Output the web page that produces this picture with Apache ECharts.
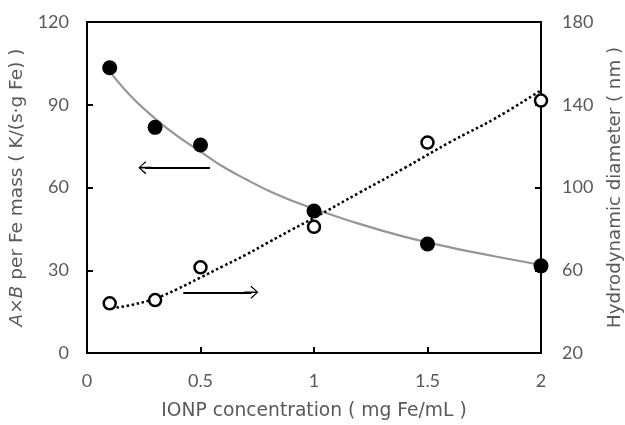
<!DOCTYPE html>
<html>
<head>
<meta charset="utf-8">
<script src="https://cdn.jsdelivr.net/npm/echarts@6/dist/echarts.min.js"></script>
<style>
html,body{margin:0;padding:0;background:#fff;}
#chart{width:625px;height:425px;}
</style>
</head>
<body>
<div id="chart"></div>
<script>
// Measured data points
var concentration = [0.1, 0.3, 0.5, 1, 1.5, 2];
var abPerFeMass = [103.4, 81.8, 75.4, 51.5, 39.5, 31.6];
var hydroDiameter = [44.0, 45.6, 61.4, 81.0, 121.7, 142.0];

// Fit curves
var fitAbX = [0.11, 0.2, 0.3, 0.4, 0.5, 0.6, 0.7, 0.8, 0.9, 1.0, 1.2, 1.4, 1.6, 1.8, 2.0];
var fitAbY = [101, 92.5, 85, 78.5, 73, 67.5, 63, 58.8, 55.3, 52.3, 46.8, 42.1, 38.3, 35, 31.9];
var fitDiaX = [0.13, 0.2, 0.3, 0.4, 0.5, 0.6, 0.7, 0.8, 0.9, 1.0, 1.2, 1.4, 1.6, 1.8, 2.0];
var fitDiaY = [42, 43.3, 46.3, 51, 56.5, 62, 67.5, 73.5, 79.5, 85.3, 97.5, 109.5, 122, 133.5, 147];

// Arrow annotations (data coordinates on left axis)
var arrowLeft = {from: [0.542, 67.2], to: [0.257, 67.2]};
var arrowRight = {from: [0.424, 22.0], to: [0.724, 22.0]};

// Axis ticks
var xTicks = {min: 0, max: 2, interval: 0.5};
var yLeftTicks = {min: 0, max: 120, interval: 30};
var yRightTicks = {min: 20, max: 180, interval: 40};

function pairs(xs, ys) { return xs.map(function (x, i) { return [x, ys[i]]; }); }

var labelColor = '#595959';
var numFont = 'Lato, "Liberation Sans", sans-serif';
var titleFont = '"DejaVu Sans", Verdana, sans-serif';
var chevron = 'path://M5,0 L10,7 L9.2,7.9 L5.6,2.4 L5.6,14 L4.4,14 L4.4,2.4 L0.8,7.9 L0,7 Z';

var chart = echarts.init(document.getElementById('chart'), null, {renderer: 'canvas'});
chart.setOption({
  animation: false,
  backgroundColor: '#ffffff',
  grid: {left: 87, right: 84, top: 22, bottom: 72, outerBoundsMode: 'none', containLabel: false,
    show: true, borderColor: '#000', borderWidth: 2, backgroundColor: 'transparent'},
  xAxis: {
    type: 'value', min: xTicks.min, max: xTicks.max, interval: xTicks.interval,
    name: 'IONP concentration ( mg Fe/mL )', nameLocation: 'middle', nameGap: 49,
    nameTextStyle: {color: labelColor, fontSize: 18.7, fontFamily: titleFont},
    axisLine: {lineStyle: {color: '#000', width: 2}},
    axisTick: {inside: true, length: 6, lineStyle: {color: '#000', width: 2}},
    axisLabel: {color: labelColor, fontSize: 18, fontFamily: numFont, margin: 19},
    splitLine: {show: false}
  },
  yAxis: [
    {
      type: 'value', min: yLeftTicks.min, max: yLeftTicks.max, interval: yLeftTicks.interval, position: 'left',
      name: '{i|A}×{i|B} per Fe mass ( K/(s·g Fe) )', nameLocation: 'middle', nameGap: 51, nameRotate: 90,
      nameTextStyle: {color: labelColor, fontSize: 18.5, fontFamily: titleFont,
        rich: {i: {fontStyle: 'italic', color: labelColor, fontSize: 18.5, fontFamily: titleFont}}},
      axisLine: {show: true, lineStyle: {color: '#000', width: 2}},
      axisTick: {show: true, inside: true, length: 6, lineStyle: {color: '#000', width: 2}},
      axisLabel: {color: labelColor, fontSize: 18, fontFamily: numFont, margin: 18},
      splitLine: {show: false}
    },
    {
      type: 'value', min: yRightTicks.min, max: yRightTicks.max, interval: yRightTicks.interval, position: 'right',
      name: 'Hydrodynamic diameter ( nm )', nameLocation: 'middle', nameGap: 65, nameRotate: 90,
      nameTextStyle: {color: labelColor, fontSize: 18.2, fontFamily: titleFont},
      axisLine: {show: true, lineStyle: {color: '#000', width: 2}},
      axisTick: {show: true, inside: true, length: 6, lineStyle: {color: '#000', width: 2}},
      axisLabel: {color: labelColor, fontSize: 18, fontFamily: numFont, margin: 21},
      splitLine: {show: false}
    }
  ],
  series: [
    {
      type: 'line', yAxisIndex: 0, data: pairs(fitAbX, fitAbY), smooth: 0.4, showSymbol: false, symbol: 'none',
      lineStyle: {color: '#969696', width: 2.2}, z: 2, silent: true,
      markLine: {
        silent: true, symbol: ['none', chevron], symbolSize: [13, 14],
        lineStyle: {color: '#000', width: 2, type: 'solid'},
        label: {show: false}, emphasis: {disabled: true},
        data: [
          [{coord: arrowLeft.from}, {coord: arrowLeft.to}],
          [{coord: arrowRight.from}, {coord: arrowRight.to}]
        ]
      }
    },
    {
      type: 'line', yAxisIndex: 1, data: pairs(fitDiaX, fitDiaY), smooth: 0.4, showSymbol: false, symbol: 'none',
      lineStyle: {color: '#000', width: 2.5, type: [2.5, 2.6]}, z: 2, silent: true
    },
    {
      type: 'scatter', yAxisIndex: 1, data: pairs(concentration, hydroDiameter), symbol: 'circle', symbolSize: 12,
      itemStyle: {color: '#fff', borderColor: '#000', borderWidth: 2.5, opacity: 1}, z: 3
    },
    {
      type: 'scatter', yAxisIndex: 0, data: pairs(concentration, abPerFeMass), symbol: 'circle', symbolSize: 15,
      itemStyle: {color: '#000', opacity: 1}, z: 4
    }
  ]
});
</script>
</body>
</html>
